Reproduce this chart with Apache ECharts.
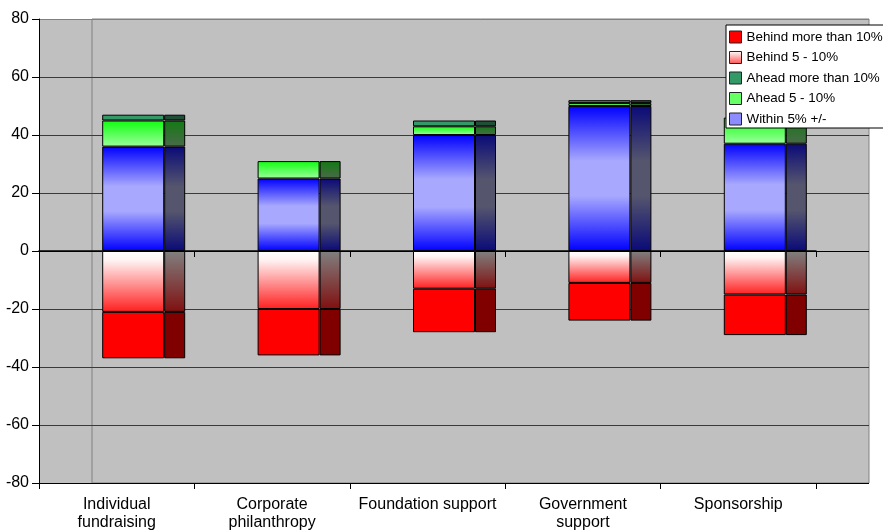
<!DOCTYPE html>
<html>
<head>
<meta charset="utf-8">
<script src="https://cdn.jsdelivr.net/npm/echarts@6/dist/echarts.min.js"></script>
<style>
  html, body { margin: 0; padding: 0; background: #ffffff; overflow: hidden; }
  #chart { width: 883px; height: 532px; }
</style>
</head>
<body>
<div id="chart"></div>
<script>
// Categories along the horizontal axis
const categories = [
  'Individual\nfundraising',
  'Corporate\nphilanthropy',
  'Foundation support',
  'Government\nsupport',
  'Sponsorship'
];

// Share of organisations per performance band (percent)
const within5      = [36, 25, 40, 50, 37];
const ahead5to10   = [9, 6, 3, 1, 9];
const aheadOver10  = [2, 0, 2, 1, 0];
const behind5to10  = [-21, -20, -13, -11, -15];
const behindOver10 = [-16, -16, -15, -13, -14];

// Value axis range
const yMin = -80;
const yMax = 80;
const yStep = 20;

const FONT = '"Liberation Sans", Arial, Helvetica, sans-serif';

function vgrad(stops) {
  return new echarts.graphic.LinearGradient(0, 0, 0, 1,
    stops.map(function (s) { return { offset: s[0], color: s[1] }; }));
}

// Stack order: positives upward from zero, negatives downward from zero
const bands = [
  {
    name: 'Within 5% +/-', data: within5,
    front: vgrad([[0, '#0000ff'], [0.38, '#a8a8ff'], [0.62, '#a8a8ff'], [1, '#0000ff']]),
    side: vgrad([[0, '#0a0a78'], [0.38, '#55556e'], [0.62, '#55556e'], [1, '#0a0a78']]),
    icon: '#8c8cff'
  },
  {
    name: 'Ahead 5 - 10%', data: ahead5to10,
    front: vgrad([[0, '#10ff10'], [1, '#9cff9c']]),
    side: vgrad([[0, '#137a13'], [1, '#4a6a4a']]),
    icon: '#66ff66'
  },
  {
    name: 'Ahead more than 10%', data: aheadOver10,
    front: '#339966',
    side: '#1f4f37',
    icon: '#339966'
  },
  {
    name: 'Behind 5 - 10%', data: behind5to10,
    front: vgrad([[0, '#ffffff'], [0.15, '#fff4f4'], [1, '#ff2020']]),
    side: vgrad([[0, '#808080'], [1, '#801010']]),
    icon: vgrad([[0, '#ffffff'], [1, '#ff5050']])
  },
  {
    name: 'Behind more than 10%', data: behindOver10,
    front: '#ff0000',
    side: '#800000',
    icon: '#ff0000'
  }
];

const legendOrder = [
  'Behind more than 10%',
  'Behind 5 - 10%',
  'Ahead more than 10%',
  'Ahead 5 - 10%',
  'Within 5% +/-'
];

function cleanValues(arr) {
  return arr.map(function (v) { return v === 0 ? '-' : v; });
}

const series = [];
bands.forEach(function (b) {
  series.push({
    name: b.name,
    type: 'bar',
    xAxisIndex: 4, yAxisIndex: 4,
    stack: 'front',
    barWidth: 62,
    barGap: '0%',
    data: cleanValues(b.data),
    itemStyle: { color: b.front, borderColor: '#000000', borderWidth: 1 },
    emphasis: { disabled: true }
  });
});
bands.forEach(function (b) {
  series.push({
    name: b.name + ' depth',
    type: 'bar',
    xAxisIndex: 4, yAxisIndex: 4,
    stack: 'side',
    barWidth: 21,
    barGap: '0%',
    data: cleanValues(b.data),
    itemStyle: { color: b.side, borderColor: '#000000', borderWidth: 1 },
    emphasis: { disabled: true }
  });
});

const iconByName = {};
bands.forEach(function (b) { iconByName[b.name] = b.icon; });

const plotTop = 19;
const plotHeight = 464;

const hiddenY = function (gridIndex) {
  return { type: 'value', gridIndex: gridIndex, min: yMin, max: yMax, interval: yStep, show: false };
};

// One colour per horizontal rule, from the bottom rule to the top rule
const ruleColors = [];
for (let v = yMin; v <= yMax; v += yStep) {
  ruleColors.push(v === 0 || v === yMin ? '#000000' : (v === yMax ? '#808080' : '#3a3a3a'));
}

const option = {
  animation: false,
  backgroundColor: '#ffffff',
  textStyle: { fontFamily: FONT },
  legend: {
    orient: 'vertical',
    left: 726,
    top: 25,
    backgroundColor: '#ffffff',
    borderColor: '#000000',
    borderWidth: 1,
    borderRadius: 0,
    padding: [5, 24, 2, 3],
    itemGap: 6.5,
    itemWidth: 12,
    itemHeight: 12,
    selectedMode: false,
    textStyle: { fontFamily: FONT, fontSize: 13.4, color: '#000000', lineHeight: 14 },
    data: legendOrder.map(function (n) {
      return {
        name: n,
        icon: 'rect',
        itemStyle: { color: iconByName[n], borderColor: '#222222', borderWidth: 1 }
      };
    })
  },
  grid: [
    // grey wall with value rules
    { left: 39, top: plotTop, width: 830, height: plotHeight, show: true,
      backgroundColor: '#c0c0c0', borderWidth: 0, containLabel: false, outerBoundsMode: 'none' },
    // back wall outline
    { left: 92, top: plotTop, width: 777, height: plotHeight, show: true,
      backgroundColor: 'transparent', borderColor: '#808080', borderWidth: 1, outerBoundsMode: 'none' },
    // category axis along the floor
    { left: 39, top: plotTop, width: 777, height: plotHeight, outerBoundsMode: 'none' },
    // baseline at zero
    { left: 39, top: plotTop, width: 777, height: plotHeight, outerBoundsMode: 'none' },
    // columns
    { left: 66, top: plotTop, width: 777, height: plotHeight, outerBoundsMode: 'none' }
  ],
  xAxis: [
    { type: 'category', gridIndex: 0, data: categories, show: false },
    { type: 'category', gridIndex: 1, data: categories, show: false },
    {
      type: 'category', gridIndex: 2, data: categories, position: 'bottom',
      axisLine: { onZero: false, lineStyle: { color: '#000000', width: 1 } },
      axisTick: { show: true, length: 6, lineStyle: { color: '#000000' } },
      axisLabel: { interval: 0, margin: 13, fontSize: 16, lineHeight: 18, color: '#000000', fontFamily: FONT },
      splitLine: { show: false }
    },
    {
      type: 'category', gridIndex: 3, data: categories,
      axisLine: { onZero: true, lineStyle: { color: '#000000', width: 1.5 } },
      axisTick: { show: true, length: 6, lineStyle: { color: '#000000' } },
      axisLabel: { show: false },
      splitLine: { show: false }
    },
    { type: 'category', gridIndex: 4, data: categories, show: false }
  ],
  yAxis: [
    {
      type: 'value', gridIndex: 0, min: yMin, max: yMax, interval: yStep,
      axisLine: { show: true, lineStyle: { color: '#000000', width: 1 } },
      axisTick: { show: true, length: 7, lineStyle: { color: '#000000' } },
      axisLabel: { margin: 10, fontSize: 16, color: '#000000', fontFamily: FONT },
      splitLine: { show: true, lineStyle: { color: ruleColors, width: 1 } }
    },
    hiddenY(1),
    hiddenY(2),
    hiddenY(3),
    hiddenY(4)
  ],
  series: series
};

const chart = echarts.init(document.getElementById('chart'), null, { renderer: 'canvas' });
chart.setOption(option);
</script>
</body>
</html>
